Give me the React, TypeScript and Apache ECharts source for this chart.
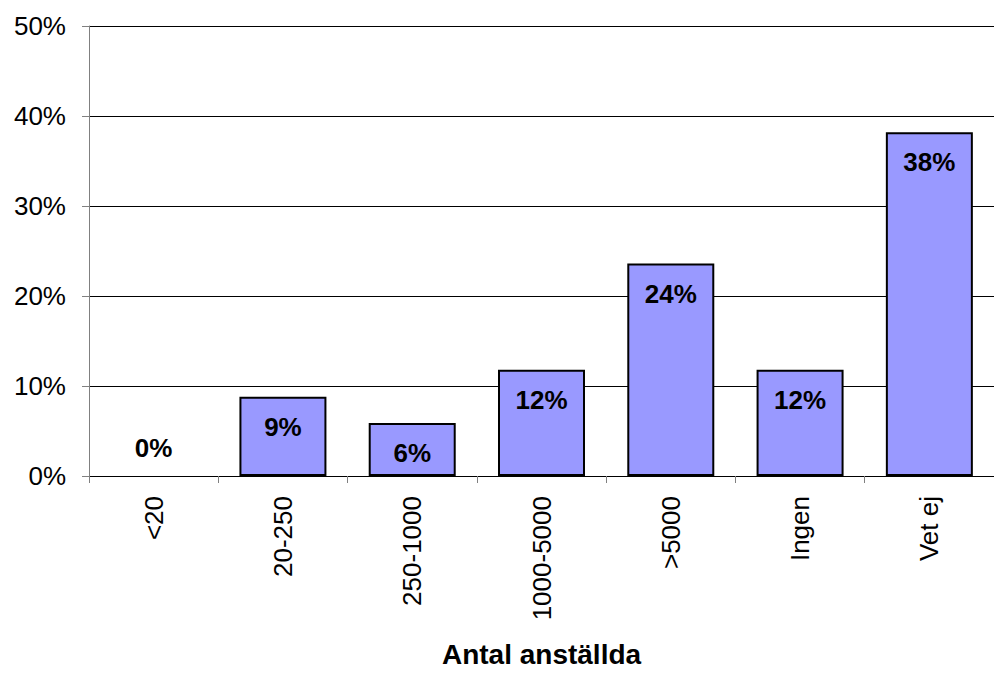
import React, { useEffect, useRef } from "react";
import * as echarts from "echarts";

const categories = ["<20", "20-250", "250-1000", "1000-5000", ">5000", "Ingen", "Vet ej"];
const values = [0, 8.8, 5.9, 11.8, 23.6, 11.8, 38.2];
const yTicks = [0, 10, 20, 30, 40, 50];
const xAxisName = "Antal anställda";

const FONT = "'Liberation Sans', Arial, sans-serif";

export default function App() {
  const ref = useRef<HTMLDivElement>(null);
  useEffect(() => {
    document.body.style.margin = "0";
    document.body.style.overflow = "hidden";
    if (!ref.current) return;
    const chart = echarts.init(ref.current, null, { renderer: "svg" });
    chart.setOption({
      animation: false,
      backgroundColor: "#ffffff",
      grid: { left: 89, top: 26, width: 910, height: 458 },
      xAxis: {
        type: "category",
        data: categories,
        name: xAxisName,
        nameLocation: "middle",
        nameGap: 178,
        nameTextStyle: {
          fontFamily: FONT,
          fontSize: 28,
          fontWeight: "bold",
          color: "#000",
          verticalAlign: "middle",
          lineHeight: 18,
        },
        axisLine: { lineStyle: { color: "#000", width: 1 } },
        axisTick: { show: true, length: 7, lineStyle: { color: "#808080" } },
        axisLabel: { rotate: 90, margin: 20, fontFamily: FONT, fontSize: 26, color: "#000" },
        splitLine: { show: false },
      },
      yAxis: {
        type: "value",
        min: yTicks[0],
        max: yTicks[yTicks.length - 1],
        interval: 10,
        axisLine: { show: true, lineStyle: { color: "#808080", width: 1 } },
        axisTick: { show: true, length: 7, lineStyle: { color: "#808080" } },
        axisLabel: { margin: 23, fontFamily: FONT, fontSize: 26, color: "#000", formatter: (v: number) => v + "%" },
        splitLine: { show: true, lineStyle: { color: "#000", width: 1 } },
      },
      series: [
        {
          type: "bar",
          barWidth: 87,
          data: values.map((v) =>
            v === 0
              ? { value: v, itemStyle: { borderWidth: 0 }, label: { position: "top", distance: 15 } }
              : { value: v }
          ),
          itemStyle: { color: "#9999FF", borderColor: "#000", borderWidth: 2 },
          label: {
            show: true,
            position: "insideTop",
            distance: 17,
            fontFamily: FONT,
            fontSize: 26,
            fontWeight: "bold",
            color: "#000",
            formatter: (p: any) => Math.round(p.value) + "%",
          },
        },
      ],
    });
    return () => chart.dispose();
  }, []);
  return (
    <div
      ref={ref}
      style={{ position: "fixed", left: 0, top: 0, width: 994, height: 673, background: "#fff", overflow: "hidden" }}
    />
  );
}
